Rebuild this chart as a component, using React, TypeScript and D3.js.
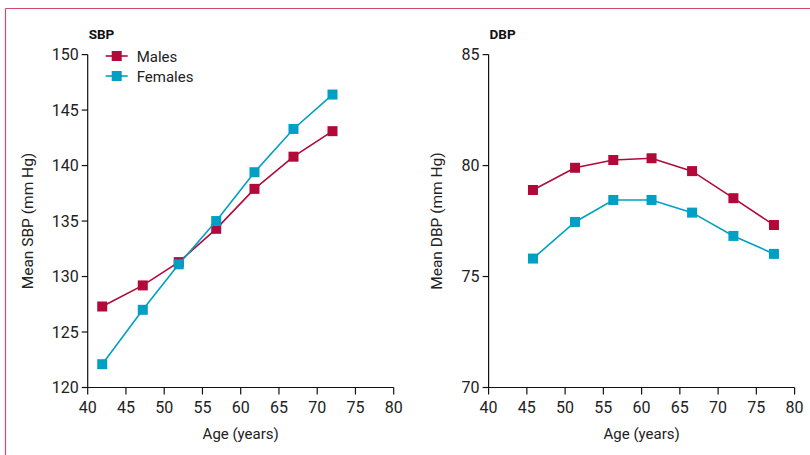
import React from 'react';
import * as d3 from 'd3';

// values
const sbpAges = [41.9, 47.2, 51.9, 56.8, 61.8, 66.9, 72.0];
const sbpMales = [127.3, 129.2, 131.3, 134.3, 137.9, 140.8, 143.1];
const sbpFemales = [122.1, 127.0, 131.1, 135.0, 139.4, 143.3, 146.4];

const dbpAges = [45.8, 51.3, 56.3, 61.3, 66.6, 72.0, 77.3];
const dbpMales = [78.9, 79.9, 80.25, 80.33, 79.75, 78.53, 77.32];
const dbpFemales = [75.81, 77.46, 78.45, 78.45, 77.88, 76.83, 76.02];

const xTicks = [40, 45, 50, 55, 60, 65, 70, 75, 80];
const sbpTicks = [120, 125, 130, 135, 140, 145, 150];
const dbpTicks = [70, 75, 80, 85];

const MALE = '#b3083a';
const FEMALE = '#009fc4';
const FONT = 'Roboto, "Open Sans", sans-serif';

type PanelProps = {
  title: string;
  yLabel: string;
  ages: number[];
  males: number[];
  females: number[];
  yDomain: [number, number];
  yTicks: number[];
  left: number;
  labelX: number;
  legend?: boolean;
};

function Panel({ title, yLabel, ages, males, females, yDomain, yTicks, left, labelX, legend }: PanelProps) {
  const top = 54.6;
  const bottom = 387.5;
  const x = d3.scaleLinear().domain([40, 80]).range([left, left + 306]);
  const y = d3.scaleLinear().domain(yDomain).range([bottom, top]);

  const line = d3
    .line<[number, number]>()
    .x((d) => x(d[0]))
    .y((d) => y(d[1]));

  const series = [
    { name: 'Males', color: MALE, vals: males },
    { name: 'Females', color: FEMALE, vals: females },
  ];

  return (
    <g fontFamily={FONT}>
      <text x={left + 1} y={39} fontSize={13.5} fontWeight="bold" fill="#111">
        {title}
      </text>

      {/* axes */}
      <line x1={left} x2={left} y1={top} y2={bottom} stroke="#111" strokeWidth={1.2} />
      <line x1={left} x2={x(80)} y1={bottom} y2={bottom} stroke="#111" strokeWidth={1.2} />
      {yTicks.map((t) => (
        <g key={t}>
          <line x1={left - 6} x2={left} y1={y(t)} y2={y(t)} stroke="#111" strokeWidth={1.2} />
          <text x={left - 9} y={y(t)} dy={5.5} textAnchor="end" fontSize={16} fill="#222">
            {t}
          </text>
        </g>
      ))}
      {xTicks.map((t) => (
        <g key={t}>
          <line x1={x(t)} x2={x(t)} y1={bottom} y2={bottom + 7} stroke="#111" strokeWidth={1.2} />
          <text x={x(t)} y={bottom + 25} textAnchor="middle" fontSize={16} fill="#222">
            {t}
          </text>
        </g>
      ))}
      <text x={x(60)} y={439} textAnchor="middle" fontSize={15} fill="#222">
        Age (years)
      </text>
      <text
        transform={`translate(${labelX},${(top + bottom) / 2}) rotate(-90)`}
        textAnchor="middle"
        fontSize={15.5}
        fill="#222"
      >
        {yLabel}
      </text>

      {series.map((s) => {
        const pts = ages.map((a, i) => [a, s.vals[i]] as [number, number]);
        return (
          <g key={s.name}>
            <path d={line(pts) || undefined} fill="none" stroke={s.color} strokeWidth={1.6} />
            {pts.map((p, i) => (
              <rect key={i} x={x(p[0]) - 5} y={y(p[1]) - 5} width={10} height={10} fill={s.color} />
            ))}
          </g>
        );
      })}

      {legend &&
        series.map((s, i) => {
          const ly = 56 + i * 20;
          return (
            <g key={s.name}>
              <line x1={left + 18} x2={left + 40} y1={ly} y2={ly} stroke={s.color} strokeWidth={1.6} />
              <rect x={left + 24} y={ly - 5} width={10} height={10} fill={s.color} />
              <text x={left + 49} y={ly} dy={5.5} fontSize={15} fill="#222">
                {s.name}
              </text>
            </g>
          );
        })}
    </g>
  );
}

export default function App() {
  return (
    <svg
      width={810}
      height={455}
      style={{ position: 'absolute', left: 0, top: 0, background: '#fff' }}
    >
      <rect x={0} y={0} width={810} height={455} fill="#fff" />
      <line x1={5.5} x2={810} y1={8.5} y2={8.5} stroke="#cf4a6e" strokeWidth={1.2} />
      <line x1={5.5} x2={5.5} y1={8.5} y2={455} stroke="#cf4a6e" strokeWidth={1.2} />
      <Panel
        title="SBP"
        yLabel="Mean SBP (mm Hg)"
        ages={sbpAges}
        males={sbpMales}
        females={sbpFemales}
        yDomain={[120, 150]}
        yTicks={sbpTicks}
        left={87.7}
        labelX={33}
        legend
      />
      <Panel
        title="DBP"
        yLabel="Mean DBP (mm Hg)"
        ages={dbpAges}
        males={dbpMales}
        females={dbpFemales}
        yDomain={[70, 85]}
        yTicks={dbpTicks}
        left={488.6}
        labelX={442}
      />
    </svg>
  );
}
